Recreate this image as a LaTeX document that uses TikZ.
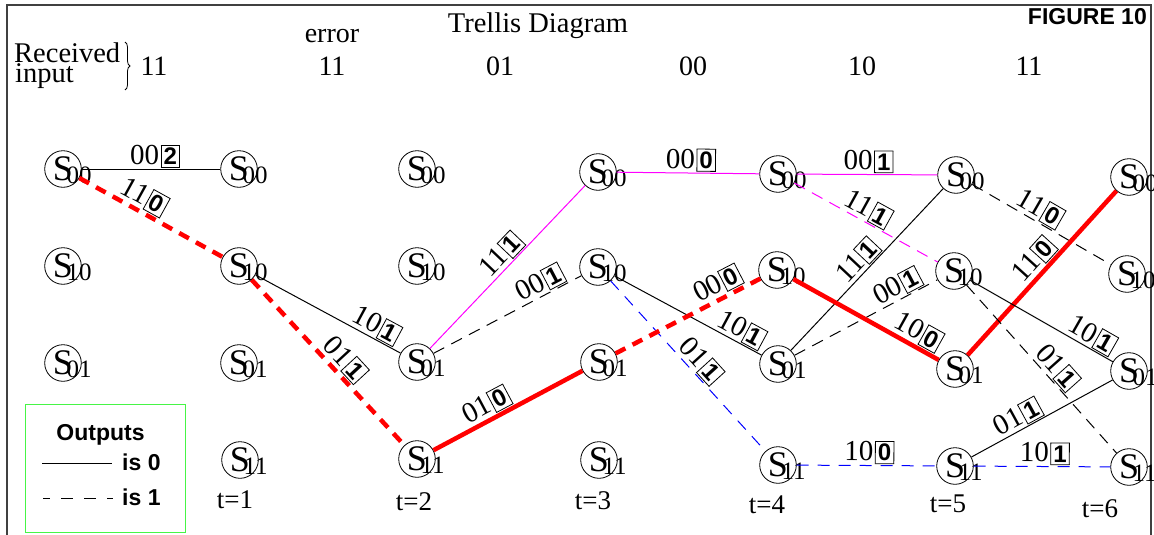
\documentclass[tikz,border=0pt]{standalone}
\usepackage{fontspec}
\setmainfont{Liberation Serif}
\setsansfont{Liberation Sans}
\usetikzlibrary{calc,decorations.pathreplacing}
\definecolor{mymag}{RGB}{255,0,255}
\definecolor{myblue}{RGB}{0,0,255}
\definecolor{myred}{RGB}{255,0,0}
\definecolor{mygreen}{RGB}{70,245,70}
\setlength{\fboxsep}{2.2pt}
\setlength{\fboxrule}{0.8pt}
\newcommand\ol[2]{#1\hspace{1.5pt}\fbox{\fontsize{24}{24}\sffamily\bfseries\selectfont #2}}
\newcommand\stn[4]{\node[st] (#1) at (#2,#3) {S};\node[sub] (#1s) at ($(#1.center)+(3.4,14.5)$) {#4};}
\begin{document}
\begin{tikzpicture}[x=1pt,y=-1pt,
  st/.style={circle,draw,line width=0.8pt,minimum size=36.6pt,inner sep=0pt,font=\fontsize{36}{36}\selectfont},
  sub/.style={inner sep=0pt,anchor=base west,font=\fontsize{25}{25}\selectfont},
  lbl/.style={sloped,above,inner sep=1pt,text=black,font=\fontsize{29}{29}\selectfont},
  txt/.style={inner sep=0pt,anchor=base,font=\fontsize{28}{28}\selectfont},
  bsf/.style={inner sep=0pt,anchor=base,font=\fontsize{23}{23}\sffamily\bfseries\selectfont},
  thin0/.style={line width=1pt},
  dsh/.style={line width=1pt,dash pattern=on 12pt off 8pt},
  redd/.style={myred,line width=4.5pt,dash pattern=on 11pt off 8pt},
  reds/.style={myred,line width=4.5pt},
  mag/.style={mymag,line width=1pt},
  magd/.style={mymag,line width=1pt,dash pattern=on 12pt off 8pt},
  blued/.style={myblue,line width=1pt,dash pattern=on 12pt off 9pt}]
\useasboundingbox (0,0) rectangle (1154,535);
% frame
\draw[line width=1.5pt,black!75] (7,535) -- (7,5) -- (1151,5) -- (1151,535);
% header
\node[txt,font=\fontsize{28.5}{28.5}\selectfont] (title) at (538,33) {Trellis Diagram};
\node[bsf,anchor=base east] (fig) at (1147,25) {FIGURE 10};
\node[txt,anchor=base west,font=\fontsize{28.5}{28.5}\selectfont] (rec) at (14,63) {Received};
\node[txt,anchor=base west,font=\fontsize{28.5}{28.5}\selectfont] (inp) at (15,83) {input};
\draw[decorate,decoration={brace,amplitude=5pt},line width=0.8pt] (125,42) -- (125,90);
\node[txt] (err) at (332,43) {error};
\node[txt] (r1) at (154,76) {11};
\node[txt] (r2) at (332,76) {11};
\node[txt] (r3) at (500,76) {01};
\node[txt] (r4) at (693,76) {00};
\node[txt] (r5) at (862,76) {10};
\node[txt] (r6) at (1029,76) {11};
% states
\stn{a0}{63}{169}{00}
\stn{a1}{239}{169}{00}
\stn{a2}{417}{169}{00}
\stn{a3}{598}{172}{00}
\stn{a4}{778}{174}{00}
\stn{a5}{956}{175}{00}
\stn{a6}{1129}{177}{00}
\stn{b0}{63}{266}{10}
\stn{b1}{239}{266}{10}
\stn{b2}{417}{266}{10}
\stn{b3}{598}{267}{10}
\stn{b4}{777}{270}{10}
\stn{b5}{954}{271}{10}
\stn{b6}{1127}{274}{10}
\stn{c0}{63}{363}{01}
\stn{c1}{239}{363}{01}
\stn{c2}{417}{362}{01}
\stn{c3}{599}{362}{01}
\stn{c4}{778}{364}{01}
\stn{c5}{955}{369}{01}
\stn{c6}{1129}{371}{01}
\stn{d1}{240}{460}{11}
\stn{d2}{417}{459}{11}
\stn{d3}{599}{460}{11}
\stn{d4}{778}{465}{11}
\stn{d5}{955}{466}{11}
\stn{d6}{1129}{467}{11}
% time labels
\node[txt,font=\fontsize{27}{27}\selectfont] (t1) at (235,508) {t=1};
\node[txt,font=\fontsize{27}{27}\selectfont] (t2) at (414,510) {t=2};
\node[txt,font=\fontsize{27}{27}\selectfont] (t3) at (593,509) {t=3};
\node[txt,font=\fontsize{27}{27}\selectfont] (t4) at (767,513) {t=4};
\node[txt,font=\fontsize{27}{27}\selectfont] (t5) at (948,512) {t=5};
\node[txt,font=\fontsize{27}{27}\selectfont] (t6) at (1100,517) {t=6};
% transitions
\draw[thin0] (a0) -- node[lbl,pos=.53]{\ol{00}{2}} (a1);
\draw[redd] (a0) -- node[lbl,pos=.40]{\ol{11}{0}} (b1);
\draw[thin0] (b1) -- node[lbl,pos=.79]{\ol{10}{1}} (c2);
\draw[redd] (b1) -- node[lbl,pos=.54]{\ol{01}{1}} (d2);
\draw[mag] (c2) -- node[lbl,pos=.52]{\ol{11}{1}} (a3);
\draw[dsh] (c2) -- node[lbl,pos=.76]{\ol{00}{1}} (b3);
\draw[reds] (d2) -- node[lbl,pos=.40]{\ol{01}{0}} (c3);
\draw[mag] (a3) -- node[lbl,pos=.52]{\ol{00}{0}} (a4);
\draw[thin0] (b3) -- node[lbl,pos=.82]{\ol{10}{1}} (c4);
\draw[blued] (b3) -- node[lbl,pos=.52]{\ol{01}{1}} (d4);
\draw[redd] (c3) -- node[lbl,pos=.75]{\ol{00}{0}} (b4);
\draw[mag] (a4) -- node[lbl,pos=.51]{\ol{00}{1}} (a5);
\draw[magd] (a4) -- node[lbl,pos=.47]{\ol{11}{1}} (b5);
\draw[thin0] (c4) -- node[lbl,pos=.50]{\ol{11}{1}} (a5);
\draw[dsh] (c4) -- node[lbl,pos=.76]{\ol{00}{1}} (b5);
\draw[reds] (b4) -- node[lbl,pos=.81]{\ol{10}{0}} (c5);
\draw[blued] (d4) -- node[lbl,pos=.52]{\ol{10}{0}} (d5);
\draw[dsh] (a5) -- node[lbl,pos=.44]{\ol{11}{0}} (b6);
\draw[reds] (c5) -- node[lbl,pos=.52]{\ol{11}{0}} (a6);
\draw[thin0] (b5) -- node[lbl,pos=.81]{\ol{10}{1}} (c6);
\draw[dsh] (b5) -- node[lbl,pos=.54]{\ol{01}{1}} (d6);
\draw[thin0] (d5) -- node[lbl,pos=.37]{\ol{01}{1}} (c6);
\draw[blued] (d5) -- node[lbl,pos=.52]{\ol{10}{1}} (d6);
% legend
\draw[mygreen,line width=1pt] (25,404) rectangle (185,532);
\node[bsf] (lo) at (100.5,440) {Outputs};
\coordinate (l0a) at (42,463);
\coordinate (l0b) at (112,463);
\draw[line width=1pt] (l0a) -- (l0b);
\node[bsf,anchor=base west] (l0) at (122,470) {is 0};
\coordinate (l1a) at (43,498);
\coordinate (l1b) at (113,498);
\draw[line width=1pt,dash pattern=on 12pt off 11pt,dash phase=5pt] (l1a) -- (l1b);
\node[bsf,anchor=base west] (l1) at (122,505) {is 1};
\end{tikzpicture}
\end{document}
